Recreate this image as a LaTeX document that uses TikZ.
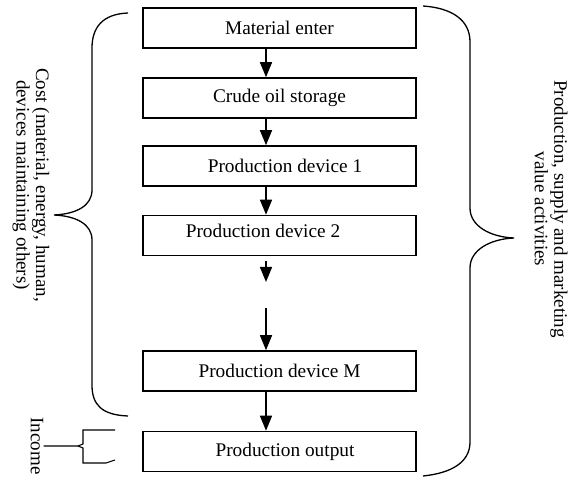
\documentclass[tikz,border=0pt]{standalone}
\usepackage{fontspec}
\setmainfont{Liberation Serif}
\usetikzlibrary{arrows.meta}
\begin{document}
\begin{tikzpicture}[x=1pt,y=-1pt,
  stepbox/.style={draw,line width=1.6pt,minimum width=273pt,minimum height=40pt,inner sep=0pt,font=\fontsize{19.3}{20}\selectfont},
  flow/.style={line width=1.4pt,-{Triangle[length=15pt,width=12pt]}},
  brace/.style={line width=1.3pt},
  lab/.style={font=\fontsize{19}{19.5}\selectfont,align=center,rotate=-90,inner sep=0pt}]
\useasboundingbox (0,0) rectangle (570,478);
\node[stepbox] (b1) at (279.5,28) {Material enter};
\node[stepbox] (b2) at (279.5,98) {Crude oil storage};
\node[stepbox] (b3) at (279.5,166) {\hspace*{11pt}Production device 1};
\node[stepbox] (b4) at (279.5,235.5) {\raisebox{9pt}{Production device 2}\hspace*{33pt}};
\node[stepbox] (bm) at (279.5,371) {Production device M};
\node[stepbox] (bo) at (279.5,451.5) {\hspace*{11pt}Production output};
\coordinate (f1s) at (266,261);
\coordinate (f1e) at (266,282);
\coordinate (f2s) at (266,308);
\draw[flow] (b1.south -| f1s) -- (b2.north -| f1s);
\draw[flow] (b2.south -| f1s) -- (b3.north -| f1s);
\draw[flow] (b3.south -| f1s) -- (b4.north -| f1s);
\draw[flow] (f1s) -- (f1e);
\draw[flow] (f2s) -- (bm.north -| f2s);
\draw[flow] (bm.south -| f1s) -- (bo.north -| f1s);
% left brace
\draw[brace] (128,13) .. controls (102,14) and (92,28) .. (92,48) -- (92,190)
  .. controls (92,206) and (76,214) .. (54,215)
  .. controls (76,216) and (92,224) .. (92,240) -- (92,385)
  .. controls (92,405) and (102,415) .. (128,416);
\node[lab] (cost) at (31,185) {Cost (material, energy, human,\\devices maintaining others)};
% right brace
\draw[brace] (423,6) .. controls (452,8) and (470,20) .. (470,42) -- (470,208)
  .. controls (470,226) and (490,237) .. (514,238)
  .. controls (490,239) and (470,250) .. (470,268) -- (470,442)
  .. controls (470,462) and (452,473) .. (423,476);
\node[lab] (value) at (551,209) {Production, supply and marketing\\value activities};
% income bracket
\node[lab] (inc) at (37,446) {Income};
\draw[line width=1.1pt] (115,430) -- (83,430) -- (83,444) -- (78,446) -- (inc.north);
\draw[line width=1.1pt] (78,446) -- (83,448) -- (83,463) -- (106,463) -- (115,460);
\end{tikzpicture}
\end{document}
